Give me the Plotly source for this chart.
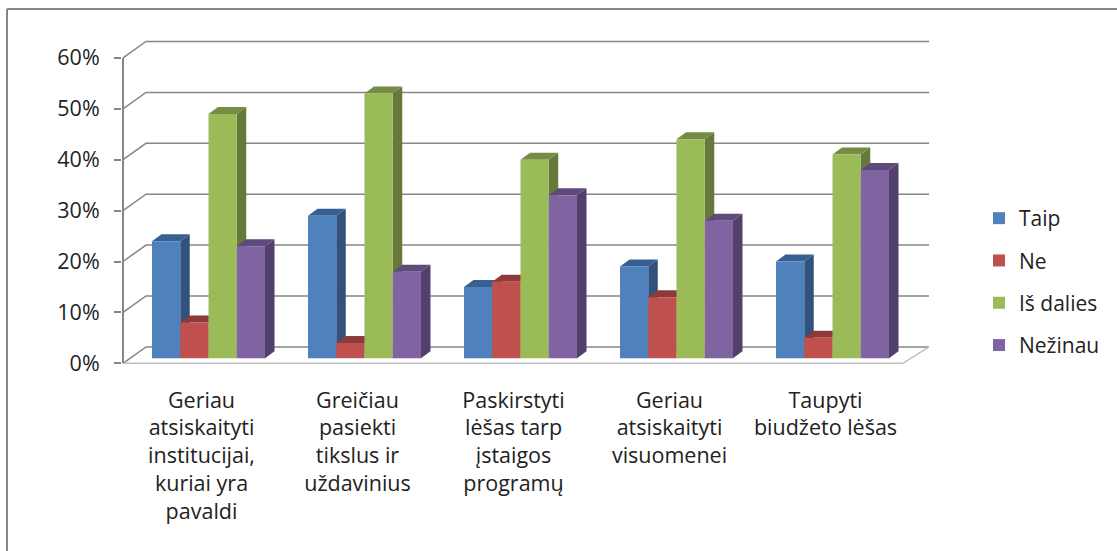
"""plot.py - grouped survey bars with a drawn 3D look (Plotly)"""

import plotly.graph_objects as go

# ---------------------------------------------------------------------------
# data
# ---------------------------------------------------------------------------

CATEGORIES = [
    "Geriau<br>atsiskaityti<br>institucijai,<br>kuriai yra<br>pavaldi",
    "Greičiau<br>pasiekti<br>tikslus ir<br>uždavinius",
    "Paskirstyti<br>lėšas tarp<br>įstaigos<br>programų",
    "Geriau<br>atsiskaityti<br>visuomenei",
    "Taupyti<br>biudžeto lėšas",
]
TAIP = [23, 28, 14, 18, 19]
NE = [7, 3, 15, 12, 4]
IS_DALIES = [48, 52, 39, 43, 40]
NEZINAU = [22, 17, 32, 27, 37]
SERIES_NAMES = ["Taip", "Ne", "Iš dalies", "Nežinau"]
Y_TICKS = [0, 10, 20, 30, 40, 50, 60]
Y_LABELS = ["0%", "10%", "20%", "30%", "40%", "50%", "60%"]

# ---------------------------------------------------------------------------
# style / geometry
# ---------------------------------------------------------------------------

FRONT = ["#4F81BD", "#C0504D", "#9BBB59", "#8064A2"]
SIDE = ["#31527B", "#7F3533", "#66783A", "#533F6C"]
TOP = ["#376092", "#8E3A38", "#748C43", "#604A7B"]
GRID = "#868686"
FLOOR = "#BFBFBF"
FONT = "Open Sans, sans-serif"
TEXT = "#222222"

W, H = 1117, 551
PLOT_L, PLOT_R, PLOT_T, PLOT_B = 122, 931, 39, 365

PX_X = 156.0  # px per category
PX_Y = 5.09  # px per percent
X0_PX = 208.5  # first group's centre
Y0_PX = 363.3  # front 0% line

GROUP_W = 113 / PX_X
BAR_W = GROUP_W / 4
BAR_LIFT = 1.0  # front faces stand a little behind the axis plane
DEPTH_X, DEPTH_Y = 9.5 / PX_X, 7 / PX_Y  # bar depth
WALL_X, WALL_Y = 23 / PX_X, 16.4 / PX_Y  # back wall offset
AXIS_X = (123 - X0_PX) / PX_X
FLOOR_R = (903 - X0_PX) / PX_X
WALL_R = (929 - X0_PX) / PX_X
LABEL_SHIFT = 7 / PX_X


def poly(points, color):
    path = "M" + "L".join(f"{x:.4f},{y:.4f}" for x, y in points) + "Z"
    return dict(type="path", xref="x", yref="y", layer="below", path=path,
                fillcolor=color, line=dict(width=0))


def seg(points, color, width=1.5):
    path = "M" + "L".join(f"{x:.4f},{y:.4f}" for x, y in points)
    return dict(type="path", xref="x", yref="y", layer="below", path=path,
                line=dict(color=color, width=width))


def px_x(p):
    return (p - PLOT_L) / (PLOT_R - PLOT_L)


def px_y(p):
    return (PLOT_B - p) / (PLOT_B - PLOT_T)


shapes = []

# back wall gridlines, slanting back from the axis
for v in Y_TICKS:
    shapes.append(seg([(AXIS_X, v), (AXIS_X + WALL_X, v + WALL_Y),
                       (WALL_R, v + WALL_Y)], GRID))
shapes.append(seg([(AXIS_X, 0), (FLOOR_R, 0), (WALL_R, WALL_Y)], FLOOR))
shapes.append(seg([(AXIS_X, 0), (AXIS_X, Y_TICKS[-1])], GRID, 2))

# side and top faces; the real bars cover what is hidden
series = [TAIP, NE, IS_DALIES, NEZINAU]
for s, values in enumerate(series):
    for i, v in enumerate(values):
        left = i - GROUP_W / 2 + s * BAR_W
        right = left + BAR_W
        top = v + BAR_LIFT
        shapes.append(poly([(right, BAR_LIFT), (right + DEPTH_X, BAR_LIFT + DEPTH_Y),
                            (right + DEPTH_X, top + DEPTH_Y), (right, top)], SIDE[s]))
        shapes.append(poly([(left, top), (left + DEPTH_X, top + DEPTH_Y),
                            (right + DEPTH_X, top + DEPTH_Y), (right, top)], TOP[s]))

# outer frame: only the top and left edges are in the picture
for x0, y0, x1, y1 in [(7, 9, 1117, 9), (7, 9, 7, 551)]:
    shapes.append(dict(type="line", xref="paper", yref="paper", layer="below",
                       x0=px_x(x0), y0=px_y(y0), x1=px_x(x1), y1=px_y(y1),
                       line=dict(color="#868686", width=2)))

fig = go.Figure()
for s, values in enumerate(series):
    fig.add_trace(go.Bar(
        x=list(range(len(CATEGORIES))),
        y=values,
        base=BAR_LIFT,
        name=SERIES_NAMES[s],
        legendgroup=SERIES_NAMES[s],
        marker=dict(color=FRONT[s], line=dict(width=0)),
        hovertemplate="%{y}%<extra>" + SERIES_NAMES[s] + "</extra>",
    ))

fig.update_layout(
    width=W,
    height=H,
    barmode="group",
    bargap=1 - GROUP_W,
    bargroupgap=0,
    paper_bgcolor="white",
    plot_bgcolor="rgba(0,0,0,0)",
    margin=dict(l=PLOT_L, r=W - PLOT_R, t=PLOT_T, b=H - PLOT_B, pad=0),
    font=dict(family=FONT, size=21.5, color=TEXT),
    shapes=shapes,
    legend=dict(
        x=px_x(979), xanchor="left",
        y=px_y(198), yanchor="top",
        font=dict(size=21), traceorder="grouped", tracegroupgap=12,
        bgcolor="rgba(0,0,0,0)",
    ),
    xaxis=dict(
        range=[(PLOT_L - X0_PX) / PX_X, (PLOT_R - X0_PX) / PX_X],
        tickmode="array",
        tickvals=[i - LABEL_SHIFT for i in range(len(CATEGORIES))],
        ticktext=CATEGORIES,
        tickangle=0,
        ticks="",
        showgrid=False,
        zeroline=False,
        showline=False,
        ticklabelstandoff=20,
    ),
    yaxis=dict(
        range=[(Y0_PX - PLOT_B) / PX_Y, (Y0_PX - PLOT_T) / PX_Y],
        tickmode="array",
        tickvals=Y_TICKS,
        ticktext=Y_LABELS,
        ticks="outside",
        ticklen=7,
        tickwidth=1.5,
        tickcolor=GRID,
        showgrid=False,
        zeroline=False,
        showline=False,
        ticklabelstandoff=10,
    ),
)

fig.write_html("out.html", config={"displayModeBar": False},
               post_script="document.body.style.margin='0';")
